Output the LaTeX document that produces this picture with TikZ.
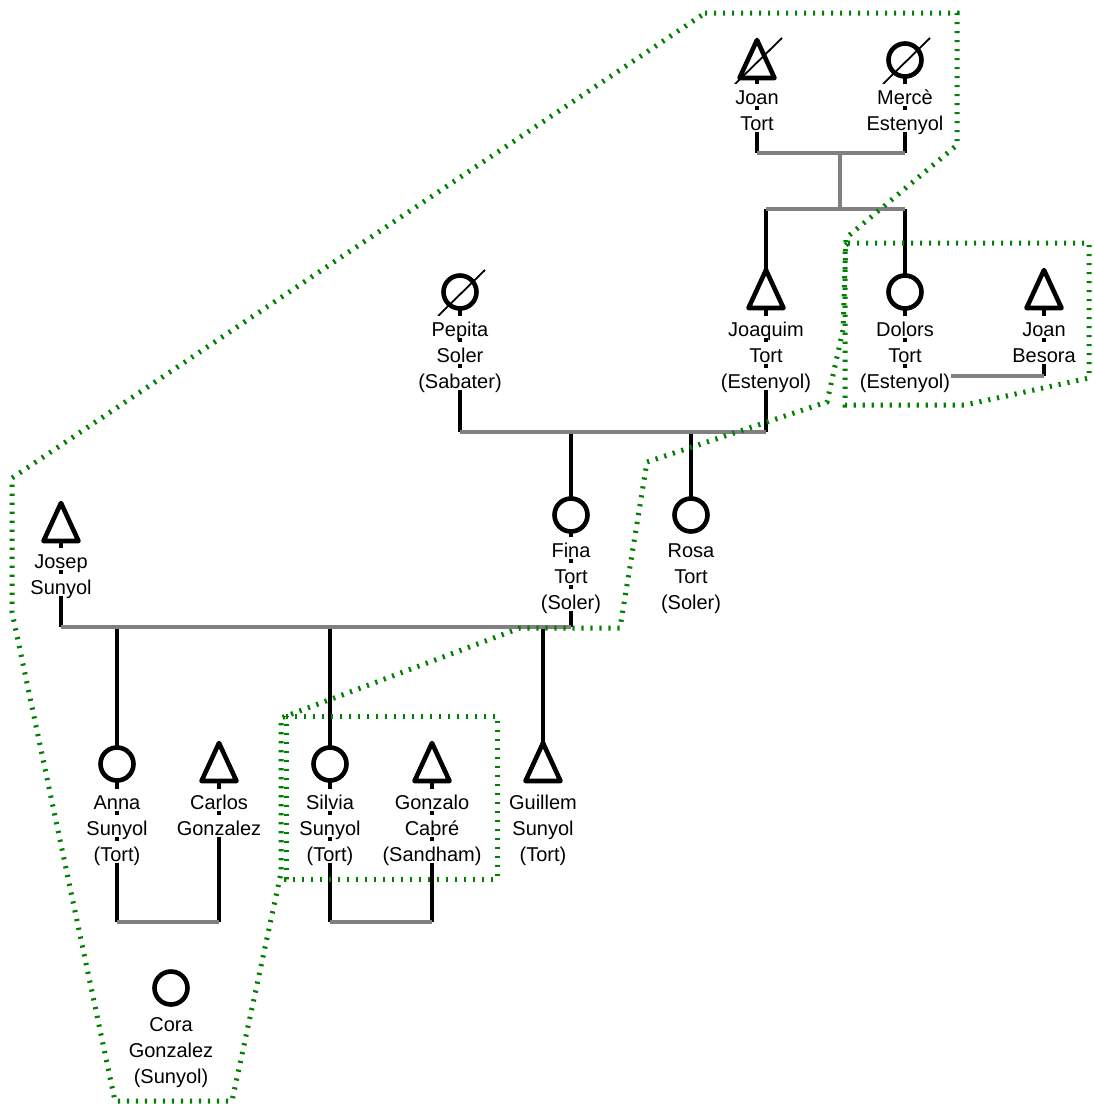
\documentclass[tikz,border=0pt]{standalone}
\usepackage{fontspec}
\setmainfont{Liberation Sans}
\definecolor{kgreen}{RGB}{0,128,0}
\definecolor{kgray}{RGB}{128,128,128}
\newcommand\mtri[1]{\draw[sym,shift={(#1)}] (0,-20) -- (17.5,18) -- (-17.5,18) -- cycle;}
\newcommand\dslash[1]{\draw[slash,shift={(#1)}] (-22,24) -- (25,-22);}
\begin{document}
\begin{tikzpicture}[x=1pt,y=-1pt,
 kin/.style={line width=4.4pt, black},
 mar/.style={line width=4.4pt, kgray},
 sym/.style={line width=4.6pt, black, fill=white, line join=round},
 fsym/.style={circle, draw, line width=4.6pt, fill=white, minimum size=33pt, inner sep=0pt},
 slash/.style={line width=1.8pt, black},
 lbl/.style={font=\fontsize{20}{24}\selectfont, fill=white, inner xsep=1pt, inner ysep=0pt, text height=20pt, text depth=2pt, anchor=base},
 grp/.style={kgreen, line width=5pt, dash pattern=on 2.2pt off 6.8pt},
]
\useasboundingbox (0,0) rectangle (1094,1104);
% persons
\coordinate (jt) at (757,60);
\coordinate (me) at (905,60);
\coordinate (jq) at (766,290);
\coordinate (dl) at (905,292);
\coordinate (jb) at (1044,290);
\coordinate (pp) at (460,292);
\coordinate (fi) at (571,515);
\coordinate (ro) at (691,515);
\coordinate (js) at (61,523);
\coordinate (an) at (117,764);
\coordinate (ca) at (219,763);
\coordinate (si) at (330,764);
\coordinate (go) at (432,763);
\coordinate (gu) at (543,763);
\coordinate (co) at (171,988);
% union and sibship levels
\coordinate (u1) at (840,153);
\coordinate (s1) at (840,209);
\coordinate (u2) at (600,432);
\coordinate (u3) at (300,627);
\coordinate (u4) at (168,922);
\coordinate (u5) at (381,922);
\coordinate (u6) at (975,376);
% black person lines
\draw[kin] (jt) -- (jt |- u1);
\draw[kin] (me) -- (me |- u1);
\draw[kin] (jq |- s1) -- (jq) -- (jq |- u2);
\draw[kin] (dl |- s1) -- (dl) -- (dl |- u6);
\draw[kin] (jb) -- (jb |- u6);
\draw[kin] (pp) -- (pp |- u2);
\draw[kin] (fi |- u2) -- (fi) -- (fi |- u3);
\draw[kin] (ro |- u2) -- (ro);
\draw[kin] (js) -- (js |- u3);
\draw[kin] (an |- u3) -- (an) -- (an |- u4);
\draw[kin] (ca) -- (ca |- u4);
\draw[kin] (si |- u3) -- (si) -- (si |- u5);
\draw[kin] (go) -- (go |- u5);
\draw[kin] (gu |- u3) -- (gu);
% grey union lines
\draw[mar] (jt |- u1) -- (me |- u1);
\draw[mar] (u1) -- (s1);
\draw[mar] (jq |- s1) -- (dl |- s1);
\draw[mar] (pp |- u2) -- (jq |- u2);
\draw[mar] (js |- u3) -- (fi |- u3);
\draw[mar] (an |- u4) -- (ca |- u4);
\draw[mar] (si |- u5) -- (go |- u5);
\draw[mar] (dl |- u6) -- (jb |- u6);
% symbols
\mtri{jt}
\node[fsym] (meS) at (me) {};
\mtri{jq}
\node[fsym] (dlS) at (dl) {};
\mtri{jb}
\node[fsym] (ppS) at (pp) {};
\node[fsym] (fiS) at (fi) {};
\node[fsym] (roS) at (ro) {};
\mtri{js}
\node[fsym] (anS) at (an) {};
\mtri{ca}
\node[fsym] (siS) at (si) {};
\mtri{go}
\mtri{gu}
\node[fsym] (coS) at (co) {};
\dslash{jt}
\dslash{me}
\dslash{pp}
% labels
\node[lbl] (jt1) at (757,104) {Joan};
\node[lbl] (jt2) at (757,130) {Tort};
\node[lbl] (me1) at (905,104) {Mercè};
\node[lbl] (me2) at (905,130) {Estenyol};
\node[lbl] (jq1) at (766,336) {Joaquim};
\node[lbl] (jq2) at (766,362) {Tort};
\node[lbl] (jq3) at (766,388) {(Estenyol)};
\node[lbl] (dl1) at (905,336) {Dolors};
\node[lbl] (dl2) at (905,362) {Tort};
\node[lbl] (dl3) at (905,388) {(Estenyol)};
\node[lbl] (jb1) at (1044,336) {Joan};
\node[lbl] (jb2) at (1044,362) {Besora};
\node[lbl] (pp1) at (460,336) {Pepita};
\node[lbl] (pp2) at (460,362) {Soler};
\node[lbl] (pp3) at (460,388) {(Sabater)};
\node[lbl] (fi1) at (571,557) {Fina};
\node[lbl] (fi2) at (571,583) {Tort};
\node[lbl] (fi3) at (571,609) {(Soler)};
\node[lbl] (ro1) at (691,557) {Rosa};
\node[lbl] (ro2) at (691,583) {Tort};
\node[lbl] (ro3) at (691,609) {(Soler)};
\node[lbl] (js1) at (61,568) {Josep};
\node[lbl] (js2) at (61,594) {Sunyol};
\node[lbl] (an1) at (117,809) {Anna};
\node[lbl] (an2) at (117,835) {Sunyol};
\node[lbl] (an3) at (117,861) {(Tort)};
\node[lbl] (ca1) at (219,809) {Carlos};
\node[lbl] (ca2) at (219,835) {Gonzalez};
\node[lbl] (si1) at (330,809) {Silvia};
\node[lbl] (si2) at (330,835) {Sunyol};
\node[lbl] (si3) at (330,861) {(Tort)};
\node[lbl] (go1) at (432,809) {Gonzalo};
\node[lbl] (go2) at (432,835) {Cabré};
\node[lbl] (go3) at (432,861) {(Sandham)};
\node[lbl] (gu1) at (543,809) {Guillem};
\node[lbl] (gu2) at (543,835) {Sunyol};
\node[lbl] (gu3) at (543,861) {(Tort)};
\node[lbl] (co1) at (171,1031) {Cora};
\node[lbl] (co2) at (171,1057) {Gonzalez};
\node[lbl] (co3) at (171,1083) {(Sunyol)};
% groups
\draw[grp] (705,13) -- (957,13) -- (957,145) -- (846,238) -- (843,330) -- (827,402) -- (647,462) -- (620,628) -- (520,628) -- (281,718) -- (281,873) -- (232,1101) -- (115,1101) -- (12,612) -- (12,478) -- cycle;
\draw[grp] (848,243) -- (1089,243) -- (1089,378) -- (965,405) -- (845,405) -- (845,246) -- cycle;
\draw[grp] (286,716) -- (497,716) -- (497,879) -- (286,879) -- cycle;
\end{tikzpicture}
\end{document}
